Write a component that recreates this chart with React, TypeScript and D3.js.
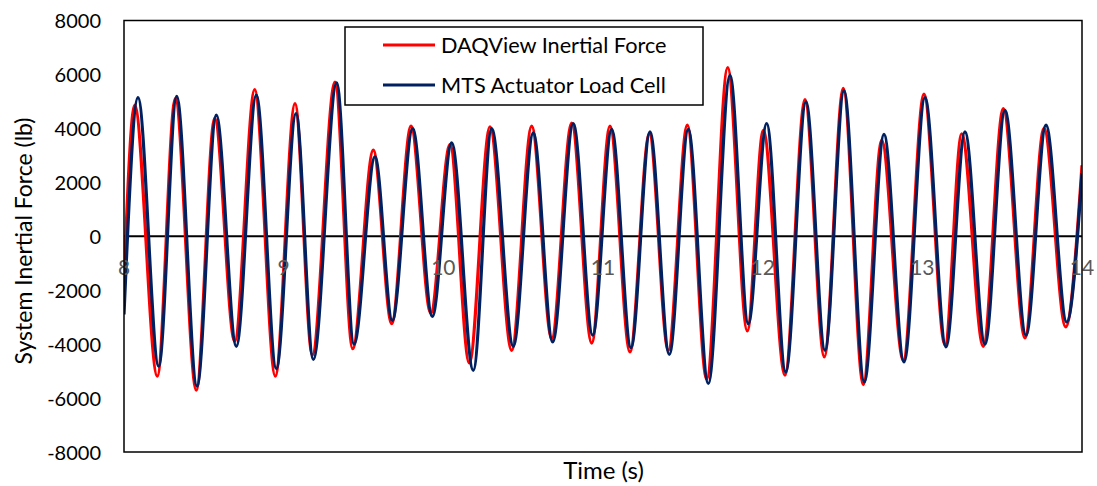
import React from 'react';
import * as d3 from 'd3';

// Extrema (peaks/troughs), time in s, force in lb
const daqTimes = [8.0, 8.067, 8.2086, 8.3213, 8.4528, 8.568, 8.6933, 8.8186, 8.9476, 9.071, 9.1793, 9.3215, 9.4323, 9.5614, 9.6766, 9.7975, 9.9209, 10.0417, 10.1626, 10.2922, 10.4281, 10.5534, 10.6787, 10.8039, 10.9292, 11.0438, 11.1691, 11.29, 11.4089, 11.5279, 11.6494, 11.7809, 11.9037, 12.0039, 12.1398, 12.2651, 12.386, 12.505, 12.6302, 12.7455, 12.8808, 13.0103, 13.1418, 13.2464, 13.3817, 13.507, 13.6429, 13.7619, 13.8978, 14.0];
const daqValues = [-1600, 4850, -5190, 5100, -5710, 4370, -3900, 5440, -5190, 4920, -4400, 5720, -4170, 3190, -3240, 4080, -2850, 3400, -4700, 4060, -4230, 4080, -3800, 4200, -3960, 4080, -4290, 3800, -4230, 4120, -5300, 6250, -3510, 3930, -5150, 5070, -4470, 5480, -5500, 3560, -4600, 5270, -4030, 3800, -4080, 4730, -3770, 4000, -3360, 2630];

const mtsTimes = [8.0, 8.0877, 8.2173, 8.3301, 8.4572, 8.5781, 8.7033, 8.8286, 8.9539, 9.0772, 9.1856, 9.3321, 9.4405, 9.572, 9.6803, 9.8081, 9.9309, 10.0523, 10.1876, 10.3029, 10.4381, 10.5634, 10.6849, 10.8139, 10.9354, 11.0544, 11.1753, 11.2943, 11.4152, 11.5342, 11.6594, 11.7953, 11.9099, 12.0252, 12.1442, 12.2713, 12.3903, 12.5093, 12.6365, 12.7598, 12.8851, 13.0166, 13.1481, 13.2671, 13.3924, 13.5176, 13.6491, 13.7744, 13.904, 14.0];
const mtsValues = [-2900, 5140, -4820, 5190, -5560, 4490, -4080, 5230, -4910, 4550, -4570, 5690, -4000, 2940, -3120, 3990, -2970, 3460, -4970, 3990, -4080, 3830, -3920, 4180, -3670, 3960, -4130, 3870, -4380, 3960, -5460, 5970, -3240, 4180, -5030, 4980, -4230, 5390, -5400, 3780, -4660, 5140, -4100, 3870, -4000, 4670, -3670, 4120, -3180, 2340];

const xTicks = [8, 9, 10, 11, 12, 13, 14];
const yTicks = [8000, 6000, 4000, 2000, 0, -2000, -4000, -6000, -8000];
const seriesNames = ['DAQView Inertial Force', 'MTS Actuator Load Cell'];

const FONT = "Lato, 'Open Sans', sans-serif";

export default function App() {
  const left = 124, right = 1082, top = 20.5, bottom = 452;
  const x = d3.scaleLinear().domain([8, 14]).range([left, right]);
  const y = d3.scaleLinear().domain([-8000, 8000]).range([bottom, top]);
  const line = d3
    .line<[number, number]>()
    .x((d) => x(d[0]))
    .y((d) => y(d[1]))
    .curve(d3.curveMonotoneX);

  const daq: [number, number][] = daqTimes.map((t, i) => [t, daqValues[i]]);
  const mts: [number, number][] = mtsTimes.map((t, i) => [t, mtsValues[i]]);

  return (
    <svg
      width={1097}
      height={486}
      style={{ position: 'absolute', left: 0, top: 0, background: '#fff' }}
      fontFamily={FONT}
    >
      <defs>
        <clipPath id="plot">
          <rect x={left} y={top} width={right - left} height={bottom - top} />
        </clipPath>
      </defs>
      {/* zero line */}
      <line x1={left} x2={right} y1={y(0)} y2={y(0)} stroke="#000" strokeWidth={2} />
      <g clipPath="url(#plot)">
        <path d={line(daq) || ''} fill="none" stroke="#ff0000" strokeWidth={3.2} strokeLinejoin="round" />
        <path d={line(mts) || ''} fill="none" stroke="#002060" strokeWidth={3.2} strokeLinejoin="round" />
      </g>
      {/* x tick labels */}
      {xTicks.map((t) => (
        <text key={t} x={x(t)} y={y(0) + 39} textAnchor="middle" fontSize={21} fill="#595959">
          {t}
        </text>
      ))}
      {/* y tick labels */}
      {yTicks.map((v) => (
        <text key={v} x={101} y={y(v) + 7.5} textAnchor="end" fontSize={20} fill="#000">
          {v}
        </text>
      ))}
      {/* plot border */}
      <rect x={left} y={top} width={right - left} height={bottom - top} fill="none" stroke="#000" strokeWidth={1.5} />
      {/* axis titles */}
      <text x={603.5} y={479} textAnchor="middle" fontSize={24} fill="#000">
        Time (s)
      </text>
      <text
        transform={`translate(31.5, 241) rotate(-90)`}
        textAnchor="middle"
        fontSize={23}
        fill="#000"
      >
        System Inertial Force (lb)
      </text>
      {/* legend */}
      <rect x={345} y={27} width={358} height={78} fill="#fff" stroke="#000" strokeWidth={1.5} />
      <line x1={383} x2={435} y1={45} y2={45} stroke="#ff0000" strokeWidth={3} />
      <text x={441} y={52.5} fontSize={21.7} fill="#000">
        {seriesNames[0]}
      </text>
      <line x1={383} x2={435} y1={85} y2={85} stroke="#002060" strokeWidth={3} />
      <text x={441} y={92.5} fontSize={21.7} fill="#000">
        {seriesNames[1]}
      </text>
    </svg>
  );
}
